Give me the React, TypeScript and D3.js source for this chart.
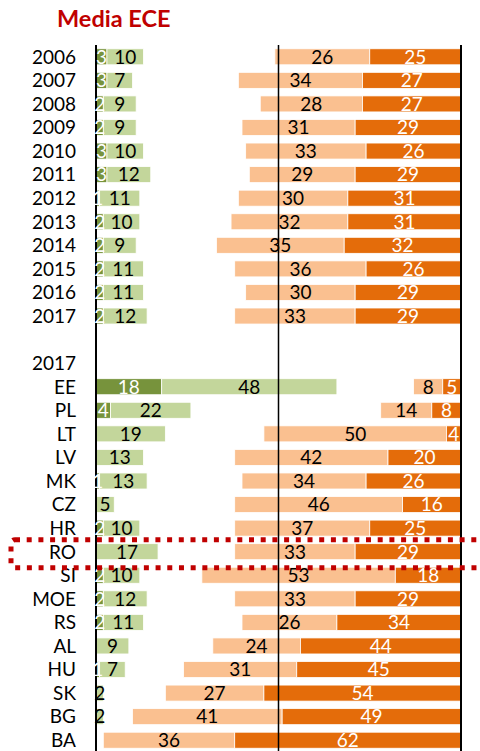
import React from 'react';
import * as d3 from 'd3';

// rows: 2006-2017 trend, blank spacer, "2017" header, then countries
const years = ['2006', '2007', '2008', '2009', '2010', '2011', '2012', '2013', '2014', '2015', '2016', '2017'];
const countries = ['EE', 'PL', 'LT', 'LV', 'MK', 'CZ', 'HR', 'RO', 'SI', 'MOE', 'RS', 'AL', 'HU', 'SK', 'BG', 'BA'];

// green (left) and orange (right) segments, in %
const yearDarkGreen = [3, 3, 2, 2, 3, 3, 1, 2, 2, 2, 2, 2];
const yearLightGreen = [10, 7, 9, 9, 10, 12, 11, 10, 9, 11, 11, 12];
const yearLightOrange = [26, 34, 28, 31, 33, 29, 30, 32, 35, 36, 30, 33];
const yearDarkOrange = [25, 27, 27, 29, 26, 29, 31, 31, 32, 26, 29, 29];

const ctryDarkGreen = [18, 4, 0, 0, 1, 0, 2, 0, 2, 2, 2, 0, 1, 0, 0, 0];
const ctryLightGreen = [48, 22, 19, 13, 13, 5, 10, 17, 10, 12, 11, 9, 7, 2, 2, 0];
const ctryLightOrange = [8, 14, 50, 42, 34, 46, 37, 33, 53, 33, 26, 24, 31, 27, 41, 36];
const ctryDarkOrange = [5, 8, 4, 20, 26, 16, 25, 29, 18, 29, 34, 44, 45, 54, 49, 62];

const highlight = 'RO';

const C = {
  darkGreen: '#77933C',
  lightGreen: '#C3D69B',
  lightOrange: '#FAC090',
  darkOrange: '#E46C0A',
  red: '#C00000',
};

const FONT = 'Lato, "Open Sans", sans-serif';

type Row = { key: string; label: string; dg: number; lg: number; lo: number; do_: number; bars: boolean };

const rows: Row[] = [
  ...years.map((y, i) => ({ key: 'y' + y, label: y, dg: yearDarkGreen[i], lg: yearLightGreen[i], lo: yearLightOrange[i], do_: yearDarkOrange[i], bars: true })),
  { key: 'blank', label: '', dg: 0, lg: 0, lo: 0, do_: 0, bars: false },
  { key: 'hdr', label: '2017', dg: 0, lg: 0, lo: 0, do_: 0, bars: false },
  ...countries.map((c, i) => ({ key: 'c' + c, label: c, dg: ctryDarkGreen[i], lg: ctryLightGreen[i], lo: ctryLightOrange[i], do_: ctryDarkOrange[i], bars: true })),
];

const W = 480;
const H = 751;

export default function App() {
  const x = d3.scaleLinear().domain([0, 100]).range([96, 461]);
  const y = d3.scaleBand<string>()
    .domain(rows.map(r => r.key))
    .range([45, 752])
    .paddingInner(0.32)
    .paddingOuter(0.16);
  const bw = y.bandwidth();

  const segs = (r: Row) => {
    const out: { x0: number; x1: number; v: number; fill: string; text: string }[] = [];
    out.push({ x0: 0, x1: r.dg, v: r.dg, fill: C.darkGreen, text: '#fff' });
    out.push({ x0: r.dg, x1: r.dg + r.lg, v: r.lg, fill: C.lightGreen, text: '#000' });
    out.push({ x0: 100 - r.do_ - r.lo, x1: 100 - r.do_, v: r.lo, fill: C.lightOrange, text: '#000' });
    out.push({ x0: 100 - r.do_, x1: 100, v: r.do_, fill: C.darkOrange, text: '#fff' });
    return out.filter(s => s.v > 0);
  };

  const hy = y('c' + highlight)!;
  const lineTop = 45;

  return (
    <svg width={W} height={H} style={{ position: 'absolute', left: 0, top: 0, background: '#fff' }}>
      <text x={57} y={27} fill={C.red} fontFamily={FONT} fontWeight="bold" fontSize={23.5}>Media ECE</text>

      {rows.filter(r => r.bars).map(r => (
        <g key={r.key}>
          {segs(r).map((s, i) => (
            <rect key={i} x={x(s.x0)} y={y(r.key)} width={x(s.x1) - x(s.x0)} height={bw}
              fill={s.fill} stroke="#fff" strokeWidth={0.8} />
          ))}
        </g>
      ))}

      {/* reference lines */}
      <line x1={x(0)} x2={x(0)} y1={lineTop} y2={H} stroke="#000" strokeWidth={2} />
      <line x1={x(50)} x2={x(50)} y1={lineTop} y2={H} stroke="#000" strokeWidth={1.5} />
      <line x1={x(100)} x2={x(100)} y1={lineTop} y2={H} stroke="#000" strokeWidth={2} />

      {rows.filter(r => r.bars).map(r => (
        <g key={r.key + 't'}>
          {segs(r).map((s, i) => (
            <text key={i} x={(x(s.x0) + x(s.x1)) / 2} y={y(r.key)! + bw / 2} dy="0.36em"
              textAnchor="middle" fill={s.text} fontFamily={FONT} fontSize={19}>{s.v}</text>
          ))}
        </g>
      ))}

      {rows.map(r => (
        <text key={r.key + 'l'} x={76} y={y(r.key)! + bw / 2} dy="0.36em" textAnchor="end"
          fontFamily={FONT} fontSize={19} fill="#000">{r.label}</text>
      ))}

      <rect x={11} y={hy - 4} width={W} height={bw + 12} rx={4} fill="none"
        stroke={C.red} strokeWidth={5} strokeDasharray="5 6.7" />
    </svg>
  );
}
